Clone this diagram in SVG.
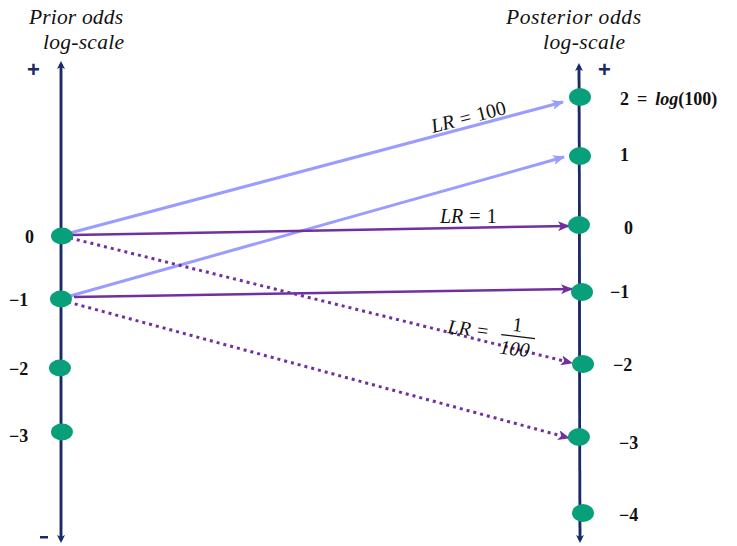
<svg xmlns="http://www.w3.org/2000/svg" width="737" height="546" viewBox="0 0 737 546">
<style>
.axis{stroke:#1a2a66;stroke-width:2.5;fill:none}
.node{fill:#08a07a}
.lb{stroke:#9a9cff;stroke-width:3;fill:none}
.pu{stroke:#7030a0;stroke-width:2.5;fill:none}
.pd{stroke:#7030a0;stroke-width:3;fill:none;stroke-dasharray:3 4}
.hd{font-family:"Liberation Serif",serif;font-style:italic;font-size:21.5px;fill:#111}
.num{font-family:"Liberation Serif",serif;font-weight:bold;font-size:18px;fill:#111}
.lr{font-family:"Liberation Serif",serif;font-size:20px;fill:#111}
.sign{font-family:"Liberation Sans",sans-serif;font-weight:bold;font-size:22px;fill:#1a2a66}
</style>
<defs>
<marker id="ax" markerWidth="8" markerHeight="8" refX="5" refY="4" orient="auto" markerUnits="userSpaceOnUse"><path d="M0,0 L8,4 L0,8 L2,4 Z" fill="#1a2a66"/></marker>
<marker id="ab" markerWidth="12" markerHeight="10" refX="11" refY="5" orient="auto" markerUnits="userSpaceOnUse"><path d="M0,0 L12,5 L0,10 L3,5 Z" fill="#9a9cff"/></marker>
<marker id="ap" markerWidth="12" markerHeight="10" refX="11" refY="5" orient="auto" markerUnits="userSpaceOnUse"><path d="M0,0 L12,5 L0,10 L3,5 Z" fill="#7030a0"/></marker>
</defs>
<g id="headers">
<text class="hd" x="29" y="24" textLength="94">Prior odds</text>
<text class="hd" x="43" y="49" textLength="81">log-scale</text>
<text class="hd" x="506" y="24" textLength="135">Posterior odds</text>
<text class="hd" x="543" y="49" textLength="82">log-scale</text>
<text class="sign" x="27" y="77">+</text>
<text class="sign" x="598" y="77">+</text>
<rect x="40" y="536" width="8" height="2.5" fill="#1a2a66"/>
</g>
<g id="connectors">
<line class="lb" x1="70" y1="233" x2="563" y2="102" marker-end="url(#ab)"/>
<line class="lb" x1="70" y1="296" x2="564" y2="157" marker-end="url(#ab)"/>
<line class="pu" x1="72" y1="235" x2="569" y2="226" marker-end="url(#ap)"/>
<line class="pu" x1="74" y1="297" x2="572" y2="289" marker-end="url(#ap)"/>
<line class="pd" x1="70" y1="238" x2="572" y2="363" marker-end="url(#ap)"/>
<line class="pd" x1="68" y1="302" x2="569" y2="438" marker-end="url(#ap)"/>
</g>
<g id="left-axis">
<line class="axis" x1="61" y1="540" x2="61" y2="64" marker-end="url(#ax)"/>
<line class="axis" x1="61" y1="64" x2="61" y2="540" marker-end="url(#ax)"/>
</g>
<g id="right-axis">
<line class="axis" x1="580" y1="540" x2="579" y2="66" marker-end="url(#ax)"/>
<line class="axis" x1="579" y1="66" x2="580" y2="540" marker-end="url(#ax)"/>
</g>
<g id="prior-0"><ellipse class="node" cx="62" cy="236" rx="11" ry="8.5"/><text class="num" x="25" y="243">0</text></g>
<g id="prior-m1"><ellipse class="node" cx="61" cy="299" rx="11" ry="8.5"/><text class="num" x="9" y="306">−1</text></g>
<g id="prior-m2"><ellipse class="node" cx="60" cy="368" rx="11" ry="8.5"/><text class="num" x="9" y="375">−2</text></g>
<g id="prior-m3"><ellipse class="node" cx="62" cy="432" rx="11" ry="8.5"/><text class="num" x="9" y="442">−3</text></g>
<g id="post-2"><ellipse class="node" cx="580" cy="97" rx="11" ry="9"/><text class="num" x="620" y="105">2<tspan dx="8">=</tspan><tspan dx="8" font-style="italic">log</tspan>(100)</text></g>
<g id="post-1"><ellipse class="node" cx="580" cy="156" rx="11" ry="9"/><text class="num" x="620" y="161">1</text></g>
<g id="post-0"><ellipse class="node" cx="579" cy="225" rx="11" ry="9"/><text class="num" x="624" y="234">0</text></g>
<g id="post-m1"><ellipse class="node" cx="582" cy="292" rx="11" ry="9"/><text class="num" x="610" y="298">−1</text></g>
<g id="post-m2"><ellipse class="node" cx="583" cy="364" rx="11" ry="9"/><text class="num" x="613" y="371">−2</text></g>
<g id="post-m3"><ellipse class="node" cx="579" cy="437" rx="11" ry="9"/><text class="num" x="619" y="449">−3</text></g>
<g id="post-m4"><ellipse class="node" cx="583" cy="513" rx="11" ry="9"/><text class="num" x="619" y="521">−4</text></g>
<g id="labels">
<text class="lr" transform="translate(433,133) rotate(-14.5)"><tspan font-style="italic">LR</tspan><tspan dx="6">=</tspan><tspan dx="6">100</tspan></text>
<text class="lr" x="440" y="223"><tspan font-style="italic">LR</tspan><tspan dx="6">=</tspan><tspan dx="6">1</tspan></text>
<g transform="translate(448,325) rotate(7)">
<text class="lr" x="0" y="8"><tspan font-style="italic">LR</tspan><tspan dx="6">=</tspan></text>
<text class="lr" x="64" y="-2">1</text>
<line x1="54" y1="3" x2="88" y2="3" stroke="#111" stroke-width="1.2"/>
<text class="lr" font-style="italic" x="54" y="22">100</text>
</g>
</g>
</svg>
